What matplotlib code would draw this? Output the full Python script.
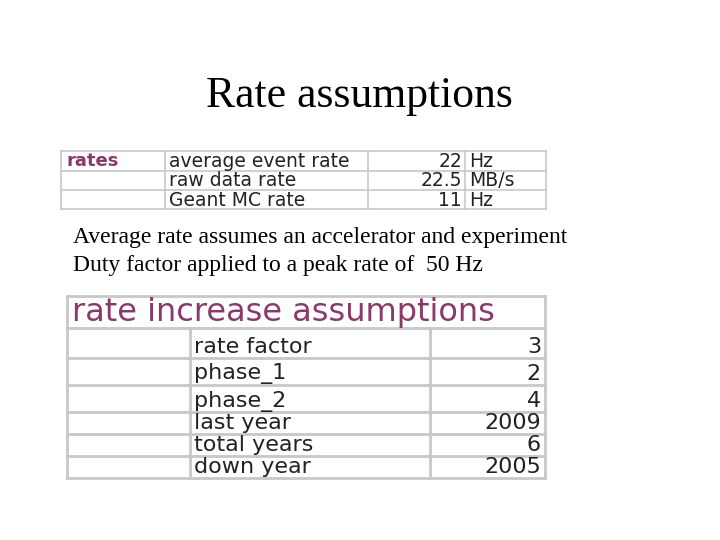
import matplotlib
matplotlib.use("Agg")
import matplotlib.pyplot as plt

title = "Rate assumptions"
rates_label = "rates"
rates_names = ["average event rate", "raw data rate", "Geant MC rate"]
rates_values = ["22", "22.5", "11"]
rates_units = ["Hz", "MB/s", "Hz"]
notes = ["Average rate assumes an accelerator and experiment",
         "Duty factor applied to a peak rate of  50 Hz"]
inc_title = "rate increase assumptions"
inc_names = ["rate factor", "phase_1", "phase_2", "last year", "total years", "down year"]
inc_values = ["3", "2", "4", "2009", "6", "2005"]

fig = plt.figure(figsize=(7.2, 5.4), dpi=100)
ax = fig.add_axes([0, 0, 1, 1])
ax.set_xlim(0, 720); ax.set_ylim(540, 0); ax.axis("off")
grid = "#c8c8c8"
mag = "#8a3a6a"
ser = "Liberation Serif"
ax.text(359, 96, title, ha="center", va="center", fontsize=31.5, family=ser)

# table 1
xs = [61, 165, 368, 465, 546]
ys = [151, 171, 190, 209]
for y in ys:
    ax.plot([xs[0], xs[-1]], [y, y], color=grid, lw=1.2)
for x in xs:
    ax.plot([x, x], [ys[0], ys[-1]], color=grid, lw=1.2)
ax.text(66, 161, rates_label, color=mag, fontsize=13, fontweight="bold", va="center")
for i, (n, v, u) in enumerate(zip(rates_names, rates_values, rates_units)):
    yc = (ys[i] + ys[i + 1]) / 2 + 0.5
    ax.text(169, yc, n, fontsize=13.5, va="center", color="#222")
    ax.text(462, yc, v, fontsize=13.5, va="center", ha="right", color="#222")
    ax.text(469, yc, u, fontsize=13.5, va="center", color="#222")

ax.text(73, 237, notes[0], fontsize=17, family=ser, va="center")
ax.text(73, 266, notes[1], fontsize=17, family=ser, va="center")

# table 2
x2 = [67, 190, 430, 545]
y2 = [296, 328, 358, 385, 412, 434, 456, 478]
for y in y2:
    ax.plot([x2[0], x2[-1]], [y, y], color=grid, lw=2)
ax.plot([x2[0], x2[0]], [y2[0], y2[-1]], color=grid, lw=2)
ax.plot([x2[-1], x2[-1]], [y2[0], y2[-1]], color=grid, lw=2)
for x in x2[1:3]:
    ax.plot([x, x], [y2[1], y2[-1]], color=grid, lw=2)
ax.text(72, 312, inc_title, color=mag, fontsize=23, va="center")
for i, (n, v) in enumerate(zip(inc_names, inc_values)):
    yc = y2[i + 2] - 11
    ax.text(194, yc, n, fontsize=16, va="center", color="#222")
    ax.text(541, yc, v, fontsize=16, va="center", ha="right", color="#222")

fig.savefig("out.png", dpi=100)
